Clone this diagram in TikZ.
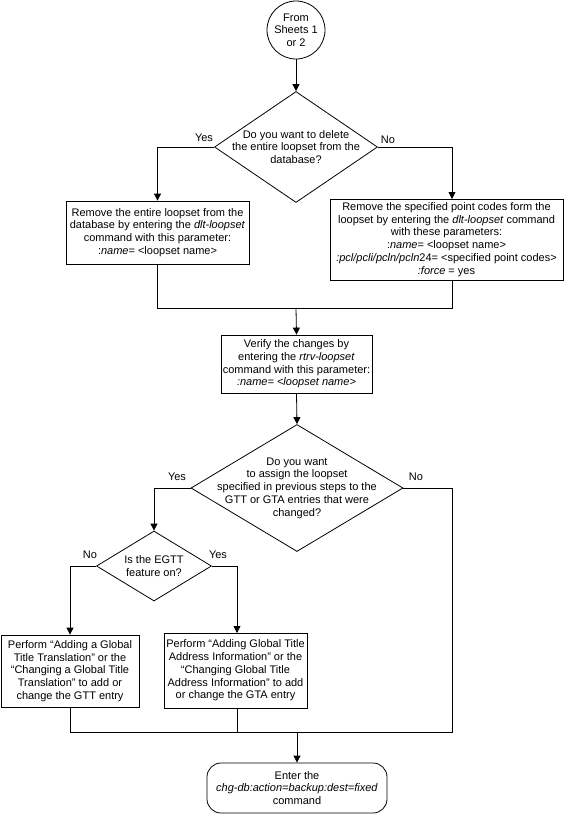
\documentclass[tikz,border=0pt]{standalone}
\usepackage{fontspec}
\setmainfont{Liberation Sans}
\usetikzlibrary{shapes.geometric,arrows.meta}
\begin{document}
\begin{tikzpicture}[x=1pt,y=-1pt,
  every node/.style={font=\fontsize{11}{12.7}\selectfont, align=center},
  flowline/.style={draw=black, line width=0.8pt},
  arr/.style={flowline, -{Triangle[length=7pt,width=7pt]}},
  procbox/.style={draw=black, line width=0.8pt, rectangle, inner sep=0pt},
  decision/.style={draw=black, line width=0.8pt, diamond, inner sep=0pt},
  lbl/.style={inner sep=0pt},
]
\useasboundingbox (0,0) rectangle (565,814);

% start
\node[draw=black, line width=0.8pt, circle, minimum size=58pt, inner sep=0pt] (start) at (296,30) {From\\Sheets 1\\or 2};

% decision 1
\node[decision, minimum width=163pt, minimum height=111pt] (d1) at (296,147) {};
\node at (d1.center) (d1t) {Do you want to delete\\the entire loopset from the\\database?};
\node[lbl] (y1) at (204,138) {Yes};
\node[lbl] (n1) at (388,140) {No};

% boxes row 1
\node[procbox, minimum width=183pt, minimum height=63pt] (box1) at (157.5,232.5)
  {Remove the entire loopset from the\\database by entering the \textit{dlt-loopset}\\command with this parameter:\\:\textit{name}= <loopset name>};
\node[procbox, minimum width=233pt, minimum height=81pt] (box2) at (446.5,239.5)
  {Remove the specified point codes form the\\loopset by entering the \textit{dlt-loopset} command\\with these parameters:\\:\textit{name}= <loopset name>\\\textit{:pcl/pcli/pcln/pcln}24= <specified point codes>\\\textit{:force} = yes};
\coordinate (b2in) at (452,199);
\coordinate (b2out) at (452,280);
\coordinate (m1) at (296,308);

% verify
\node[procbox, minimum width=151pt, minimum height=58pt] (verify) at (296.5,364)
  {Verify the changes by\\entering the \textit{rtrv-loopset}\\command with this parameter:\\\textit{:name= <loopset name>}};

% decision 2
\node[decision, minimum width=212pt, minimum height=127pt] (d2) at (297,488) {};
\node at (d2.center) (d2t) {Do you want\\to assign the loopset\\specified in previous steps to the\\GTT or GTA entries that were\\changed?};
\node[lbl] (y2) at (177,477) {Yes};
\node[lbl] (n2) at (416,477) {No};

% decision 3
\node[decision, minimum width=115pt, minimum height=70pt] (d3) at (154,566) {};
\node at (d3.center) (d3t) {Is the EGTT\\feature on?};
\node[lbl] (n3) at (90,555) {No};
\node[lbl] (y3) at (218,555) {Yes};

% boxes row 2
\node[procbox, minimum width=138pt, minimum height=72pt] (gtt) at (70,671)
  {Perform “Adding a Global\\Title Translation" or the\\“Changing a Global Title\\Translation" to add or\\change the GTT entry};
\node[procbox, minimum width=143pt, minimum height=75pt] (gta) at (235.5,670.5)
  {Perform “Adding Global Title\\Address Information" or the\\“Changing Global Title\\Address Information" to add\\or change the GTA entry};
\coordinate (gtain) at (237,633);
\coordinate (gtaout) at (237,708);
\coordinate (m2) at (297,732);
\coordinate (m2r) at (452,732);

% terminal
\node[draw=black, line width=0.8pt, rectangle, rounded corners=14pt, minimum width=180pt, minimum height=50pt, inner sep=0pt] (term) at (297,788)
  {Enter the\\\textit{chg-db:action=backup:dest=fixed}\\command};

% connectors
\draw[arr] (start.south) -- (d1.north);
\draw[arr] (d1.west) -| (box1.north);
\draw[arr] (d1.east) -| (b2in);
\draw[flowline] (box1.south) |- (m1);
\draw[flowline] (b2out) |- (m1);
\draw[arr] (m1) -- (verify.north);
\draw[arr] (verify.south) -- (d2.north);
\draw[arr] (d2.west) -| (d3.north);
\draw[flowline] (d2.east) -| (m2r) -- (m2);
\draw[arr] (d3.west) -| (gtt.north);
\draw[arr] (d3.east) -| (gtain);
\draw[flowline] (gtt.south) |- (m2);
\draw[flowline] (gtaout) |- (m2);
\draw[arr] (m2) -- (term.north);
\end{tikzpicture}
\end{document}
